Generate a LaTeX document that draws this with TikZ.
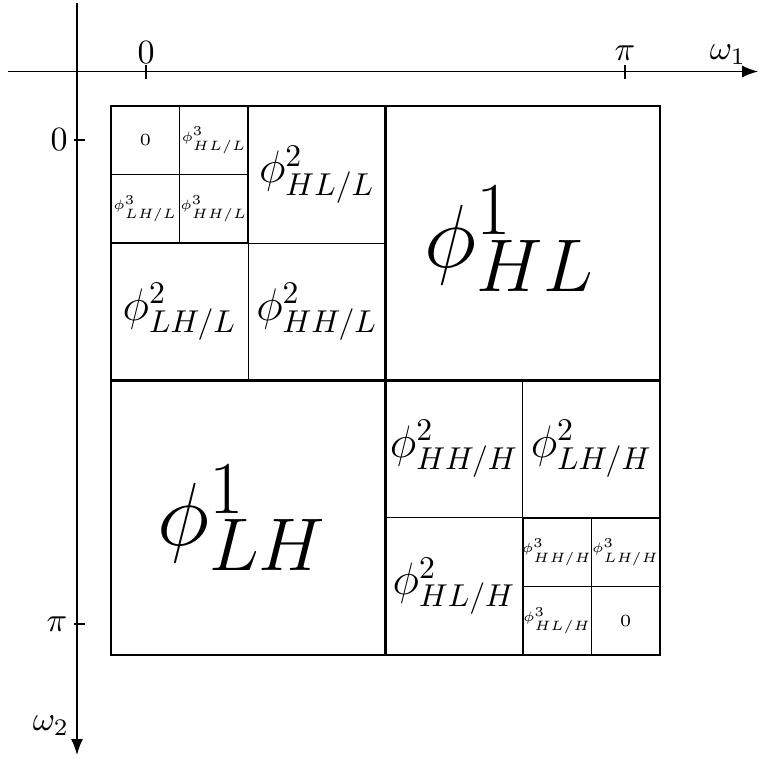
\documentclass[tikz,border=0pt]{standalone}
\usetikzlibrary{arrows.meta}
\begin{document}
\begin{tikzpicture}[x=0.01034cm, y=-0.01034cm,
  axis/.style={thin, -{Latex[length=4.7pt, width=3.5pt]}},
  tick/.style={thin},
  frame/.style={semithick},
  split/.style={thin},
  big/.style={font=\Huge, scale=1.06, transform shape},
  mid/.style={font=\Large, scale=0.93, transform shape},
  small/.style={font=\tiny, scale=0.8, transform shape}]

\useasboundingbox (0,0) rectangle (759,759);

\def\ox{111}   % left edge of the square
\def\oy{106}   % top edge of the square
\def\s{549}    % side of the square
\pgfmathsetmacro{\h}{\s/2}
\pgfmathsetmacro{\q}{\s/4}
\pgfmathsetmacro{\e}{\s/8}

% axes
\coordinate (w1start) at (8,71.5);
\coordinate (w1end) at (758,71.5);
\coordinate (w2start) at (77,3);
\coordinate (w2end) at (77,755);
\draw[axis] (w1start) -- (w1end);
\draw[axis] (w2start) -- (w2end);
\node (w1) at (728,55) {$\omega_1$};
\node (w2) at (51,726) {$\omega_2$};

% ticks
\foreach \name/\x/\lbl in {h0/146/0, hpi/625/\pi}{
  \draw[tick] (\x,65) -- (\x,79);
  \node (\name) at (\x,53) {$\lbl$};
}
\foreach \name/\y/\xx/\lbl in {v0/140/59/0, vpi/624/57/\pi}{
  \draw[tick] (74,\y) -- (85,\y);
  \node (\name) at (\xx,\y) {$\lbl$};
}

% square and splits
\draw[frame] (\ox,\oy) rectangle +(\s,\s);
\draw[frame] (\ox+\h,\oy) -- +(0,\s);
\draw[frame] (\ox,\oy+\h) -- +(\s,0);
% upper left quadrant
\draw[split] (\ox+\q,\oy) -- +(0,\h);
\draw[split] (\ox,\oy+\q) -- +(\h,0);
\draw[frame] (\ox,\oy) rectangle +(\q,\q);
\draw[split] (\ox+\e,\oy) -- +(0,\q);
\draw[split] (\ox,\oy+\e) -- +(\q,0);
% lower right quadrant
\draw[split] (\ox+\h+\q,\oy+\h) -- +(0,\h);
\draw[split] (\ox+\h,\oy+\h+\q) -- +(\h,0);
\draw[frame] (\ox+\h+\q,\oy+\h+\q) rectangle +(\q,\q);
\draw[split] (\ox+\h+\q+\e,\oy+\h+\q) -- +(0,\q);
\draw[split] (\ox+\h+\q,\oy+\h+\q+\e) -- +(\q,0);

% level 1
\node[big] (hl1) at (\ox+\h+\h/2-13, \oy+\h/2-4) {$\phi^1_{HL}$};
\node[big] (lh1) at (\ox+\h/2-6, \oy+\h+\h/2) {$\phi^1_{LH}$};

% level 2
\foreach \name/\bx/\by/\lbl in {
  hll/\q/0/{HL/L}, lhl/0/\q/{LH/L}, hhl/\q/\q/{HH/L},
  hhh/\h/\h/{HH/H}, lhh/\h+\q/\h/{LH/H}, hlh/\h/\h+\q/{HL/H}}
  \node[mid] (\name) at (\ox+\bx+\q/2, \oy+\by+\q/2) {$\phi^2_{\lbl}$};

% level 3
\foreach \name/\bx/\by/\lbl in {
  l3hll/\e/0/{HL/L}, l3lhl/0/\e/{LH/L}, l3hhl/\e/\e/{HH/L},
  l3hhh/\h+\q/\h+\q/{HH/H}, l3lhh/\h+\q+\e/\h+\q/{LH/H},
  l3hlh/\h+\q/\h+\q+\e/{HL/H}}
  \node[small] (\name) at (\ox+\bx+\e/2, \oy+\by+\e/2) {$\phi^3_{\lbl}$};
\node[font=\tiny] (l3ll) at (\ox+\e/2, \oy+\e/2) {$0$};
\node[font=\tiny] (l3hh) at (\ox+\h+\q+\e+\e/2, \oy+\h+\q+\e+\e/2) {$0$};

\end{tikzpicture}
\end{document}
